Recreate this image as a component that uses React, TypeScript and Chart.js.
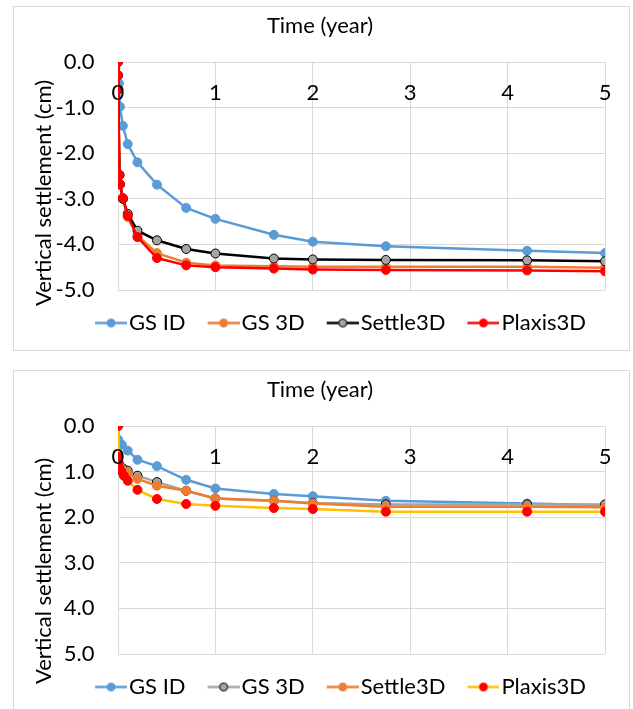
import React, { useEffect, useRef } from "react";
import { Chart, registerables } from "chart.js";

Chart.register(...registerables);

const FONT = "Lato";

// ---------- Top chart (settlement as negative values) ----------
const topSeriesNames = ["GS ID", "GS 3D", "Settle3D", "Plaxis3D"];
const topGsIdTime = [0, 0.01, 0.02, 0.05, 0.1, 0.2, 0.4, 0.7, 1, 1.6, 2, 2.75, 4.2, 5];
const topGsIdValues = [0, -0.47, -0.98, -1.4, -1.8, -2.2, -2.69, -3.2, -3.44, -3.79, -3.94, -4.04, -4.14, -4.19];
const top3DTime = [0, 0.001, 0.003, 0.015, 0.02, 0.05, 0.1, 0.2, 0.4, 0.7, 1, 1.6, 2, 2.75, 4.2, 5];
const topGs3DValues = [0, -0.29, -0.6, -2.48, -2.68, -3.0, -3.4, -3.81, -4.19, -4.4, -4.46, -4.48, -4.49, -4.49, -4.49, -4.51];
const topSettle3DValues = [0, -0.29, -0.6, -2.48, -2.68, -3.0, -3.33, -3.7, -3.91, -4.1, -4.2, -4.31, -4.33, -4.34, -4.35, -4.37];
const topPlaxis3DValues = [0, -0.29, -0.6, -2.48, -2.68, -2.98, -3.37, -3.84, -4.3, -4.46, -4.5, -4.53, -4.55, -4.56, -4.57, -4.59];

// ---------- Bottom chart (settlement as positive values, reversed axis) ----------
const botSeriesNames = ["GS ID", "GS 3D", "Settle3D", "Plaxis3D"];
const botGsIdTime = [0, 0.003, 0.04, 0.1, 0.2, 0.4, 0.7, 1, 1.6, 2, 2.75, 4.2, 5];
const botGsIdValues = [0, 0.3, 0.41, 0.54, 0.74, 0.88, 1.18, 1.37, 1.49, 1.54, 1.64, 1.7, 1.74];
const bot3DTime = [0, 0.002, 0.005, 0.02, 0.05, 0.1, 0.2, 0.4, 0.7, 1, 1.6, 2, 2.75, 4.2, 5];
const botGs3DValues = [0, 0.66, 0.8, 0.88, 0.93, 0.98, 1.09, 1.23, 1.42, 1.59, 1.64, 1.69, 1.72, 1.72, 1.72];
const botSettle3DValues = [0, 0.66, 0.8, 0.9, 0.97, 1.03, 1.16, 1.31, 1.42, 1.59, 1.64, 1.7, 1.77, 1.77, 1.78];
const botPlaxisTime = [0, 0.002, 0.005, 0.01, 0.03, 0.06, 0.1, 0.2, 0.4, 0.7, 1, 1.6, 2, 2.75, 4.2, 5];
const botPlaxis3DValues = [0, 0.68, 0.8, 0.9, 0.98, 1.09, 1.2, 1.4, 1.6, 1.71, 1.75, 1.8, 1.82, 1.88, 1.88, 1.88];

const xTickValues = [0, 1, 2, 3, 4, 5];
const xTitle = "Time (year)";
const yTitle = "Vertical settlement (cm)";

const BLUE = "#5B9BD5";
const ORANGE = "#ED7D31";
const GRAY = "#A5A5A5";
const BLACK = "#000000";
const RED = "#FF0000";
const YELLOW = "#FFC000";
const GRID = "#D9D9D9";
const FONT_SIZE = 22;

type Series = {
  label: string;
  time: number[];
  values: number[];
  line: string;
  fill: string;
  border: string;
};

const topSeries: Series[] = [
  { label: topSeriesNames[0], time: topGsIdTime, values: topGsIdValues, line: BLUE, fill: BLUE, border: BLUE },
  { label: topSeriesNames[1], time: top3DTime, values: topGs3DValues, line: ORANGE, fill: ORANGE, border: ORANGE },
  { label: topSeriesNames[2], time: top3DTime, values: topSettle3DValues, line: BLACK, fill: GRAY, border: BLACK },
  { label: topSeriesNames[3], time: top3DTime, values: topPlaxis3DValues, line: RED, fill: RED, border: RED },
];

const botSeries: Series[] = [
  { label: botSeriesNames[0], time: botGsIdTime, values: botGsIdValues, line: BLUE, fill: BLUE, border: BLUE },
  { label: botSeriesNames[1], time: bot3DTime, values: botGs3DValues, line: GRAY, fill: GRAY, border: BLACK },
  { label: botSeriesNames[2], time: bot3DTime, values: botSettle3DValues, line: ORANGE, fill: ORANGE, border: ORANGE },
  { label: botSeriesNames[3], time: botPlaxisTime, values: botPlaxis3DValues, line: YELLOW, fill: RED, border: RED },
];

function makeLegendImage(s: Series): HTMLCanvasElement {
  const c = document.createElement("canvas");
  c.width = 41;
  c.height = 13;
  const ctx = c.getContext("2d")!;
  ctx.strokeStyle = s.line;
  ctx.lineWidth = 2.5;
  ctx.beginPath();
  ctx.moveTo(9, 6.5);
  ctx.lineTo(41, 6.5);
  ctx.stroke();
  ctx.beginPath();
  ctx.arc(25, 6.5, 4, 0, Math.PI * 2);
  ctx.fillStyle = s.fill;
  ctx.fill();
  ctx.lineWidth = 1;
  ctx.strokeStyle = s.border;
  ctx.stroke();
  return c;
}

const titlesPlugin = {
  id: "axisTitles",
  afterLayout(chart: any, _args: any, opts: any) {
    const lg = chart.legend;
    if (lg) {
      lg.left += opts.legendShift;
      lg.right += opts.legendShift;
    }
  },
  afterDraw(chart: any, _args: any, opts: any) {
    const ctx = chart.ctx as CanvasRenderingContext2D;
    ctx.save();
    ctx.fillStyle = "#000";
    ctx.font = `${opts.size}px ${FONT}`;
    ctx.textAlign = "center";
    ctx.textBaseline = "middle";
    ctx.fillText(opts.xText, opts.xX, opts.xY);
    ctx.translate(opts.yX, opts.yY);
    ctx.rotate(-Math.PI / 2);
    ctx.fillText(opts.yText, 0, 0);
    ctx.restore();
  },
};

type ChartProps = {
  series: Series[];
  yMin: number;
  yMax: number;
  reverse: boolean;
  yTitleY: number;
};

function SettlementChart({ series, yMin, yMax, reverse, yTitleY }: ChartProps) {
  const ref = useRef<HTMLCanvasElement | null>(null);

  useEffect(() => {
    if (!ref.current) return;
    const images = series.map(makeLegendImage);
    const font = { family: FONT, size: FONT_SIZE };
    const n = series.length;
    const chart = new Chart(ref.current, {
      type: "line",
      data: {
        datasets: series.map((s, i) => ({
          label: s.label,
          data: s.time.map((t, k) => ({ x: t, y: s.values[k] })),
          borderColor: s.line,
          backgroundColor: s.fill,
          pointBackgroundColor: s.fill,
          pointBorderColor: s.border,
          pointBorderWidth: 1,
          pointRadius: 4.5,
          borderWidth: 2.5,
          tension: 0,
          fill: false,
          order: n - i,
        })),
      },
      options: {
        animation: false,
        responsive: false,
        devicePixelRatio: 1,
        layout: { padding: { left: 0, right: 13, top: 55, bottom: 6 } },
        plugins: {
          tooltip: { enabled: false },
          title: { display: false },
          legend: {
            position: "bottom",
            labels: {
              font,
              color: "#000",
              usePointStyle: true,
              pointStyleWidth: 23,
              boxHeight: FONT_SIZE,
              padding: 22,
              sort: (a: any, b: any) => a.datasetIndex - b.datasetIndex,
              generateLabels: (c: any) => {
                const items = (Chart as any).defaults.plugins.legend.labels.generateLabels(c);
                return items.map((it: any) => ({ ...it, pointStyle: images[it.datasetIndex], fontColor: "#000" }));
              },
            },
          },
          axisTitles: {
            size: FONT_SIZE,
            xText: xTitle,
            xX: 306,
            xY: 19,
            yText: yTitle,
            yX: 30,
            yY: yTitleY,
            legendShift: 25.5,
          },
        } as any,
        scales: {
          x: {
            type: "linear",
            min: xTickValues[0],
            max: xTickValues[xTickValues.length - 1],
            position: { y: 0 } as any,
            afterBuildTicks: (scale: any) => {
              scale.ticks = xTickValues.map((v) => ({ value: v }));
            },
            ticks: {
              font,
              color: "#000",
              padding: 17.6,
              maxRotation: 0,
              autoSkip: false,
              z: 1,
              callback: (v: any) => String(Number(v)),
            },
            grid: { color: GRID, lineWidth: 1, drawTicks: false },
            border: { display: false },
          },
          y: {
            type: "linear",
            min: yMin,
            max: yMax,
            reverse,
            afterFit: (scale: any) => {
              scale.width = 104;
            },
            ticks: {
              stepSize: 1,
              font,
              color: "#000",
              padding: 23.5,
              callback: (v: any) => Number(v).toFixed(1),
            },
            grid: { color: GRID, lineWidth: 1, drawTicks: false },
            border: { display: true, color: GRID, width: 1 },
          },
        },
      } as any,
      plugins: [titlesPlugin as any],
    });
    return () => chart.destroy();
  }, [series, yMin, yMax, reverse, yTitleY]);

  return <canvas ref={ref} width={615} height={343} style={{ display: "block", width: 615, height: 343 }} />;
}

export default function App() {
  const box: React.CSSProperties = {
    position: "absolute",
    left: 13,
    width: 617,
    height: 345,
    border: `1px solid ${GRID}`,
    boxSizing: "border-box",
    background: "#fff",
  };
  return (
    <div style={{ position: "fixed", left: 0, top: 0, width: 633, height: 709, overflow: "hidden", background: "#fff" }}>
      <div style={{ ...box, top: 6 }}>
        <SettlementChart series={topSeries} yMin={-5} yMax={0} reverse={false} yTitleY={186} />
      </div>
      <div style={{ ...box, top: 370 }}>
        <SettlementChart series={botSeries} yMin={0} yMax={5} reverse={true} yTitleY={200} />
      </div>
    </div>
  );
}
